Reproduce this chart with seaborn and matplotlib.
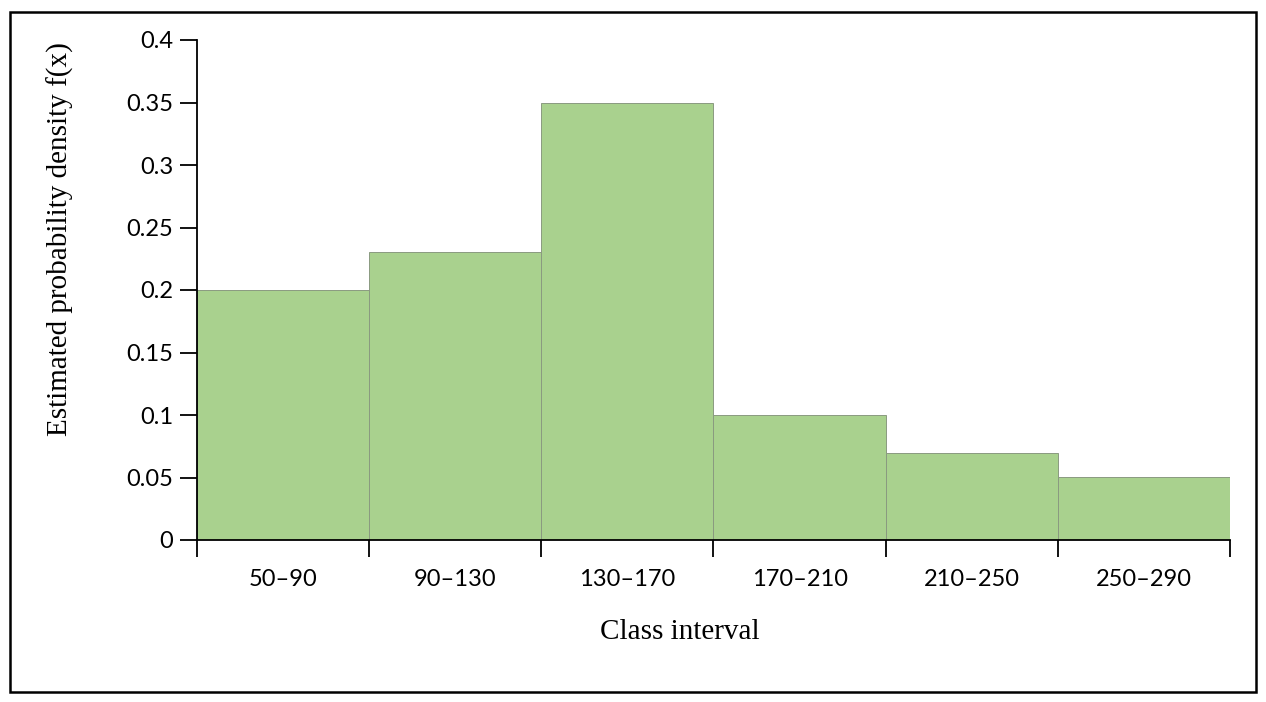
import numpy as np
import pandas as pd
import matplotlib
matplotlib.use("Agg")
import matplotlib.pyplot as plt
import seaborn as sns
from matplotlib.patches import Rectangle

# Class intervals and estimated densities
edges = [50, 90, 130, 170, 210, 250, 290]
labels = ["50–90", "90–130", "130–170", "170–210", "210–250", "250–290"]
density = [0.2, 0.23, 0.35, 0.1, 0.07, 0.05]

mids = [(a + b) / 2 for a, b in zip(edges[:-1], edges[1:])]
df = pd.DataFrame({"mid": mids, "f": density})

sns.set_style("white")
plt.rcParams["font.family"] = ["Lato", "DejaVu Sans"]
plt.rcParams["text.color"] = "black"
plt.rcParams["xtick.color"] = "black"
plt.rcParams["ytick.color"] = "black"
plt.rcParams["axes.labelcolor"] = "black"

fig = plt.figure(figsize=(12.66, 7.02), dpi=100)
ax = fig.add_axes([197 / 1266, 1 - 540 / 702, (1230 - 197) / 1266, 500 / 702])

sns.histplot(data=df, x="mid", weights="f", bins=edges, stat="count",
             color="#a9d18e", alpha=1, edgecolor="#8a9a80", linewidth=0.7, ax=ax)

ax.set_xlim(50, 290)
ax.set_ylim(0, 0.4)
ax.set_yticks([0, 0.05, 0.1, 0.15, 0.2, 0.25, 0.3, 0.35, 0.4])
ax.set_yticklabels(["0", "0.05", "0.1", "0.15", "0.2", "0.25", "0.3", "0.35", "0.4"])
ax.set_xticks(edges)
ax.set_xticklabels([""] * len(edges))
ax.set_xticks(mids, minor=True)
ax.set_xticklabels(labels, minor=True)
ax.tick_params(axis="x", which="major", direction="out", length=12, width=1.3, bottom=True)
ax.tick_params(axis="x", which="minor", length=0, pad=21, labelsize=17)
ax.tick_params(axis="y", direction="out", length=12, width=1.3, left=True, labelsize=17, pad=5)

sns.despine(ax=ax)
for s in ["left", "bottom"]:
    ax.spines[s].set_color("black")
    ax.spines[s].set_linewidth(1.3)

ax.set_xlabel("Class interval", family="Liberation Serif", fontsize=21, va="center")
ax.set_ylabel("Estimated probability density f(x)", family="Liberation Serif", fontsize=21, va="center")
ax.xaxis.set_label_coords((680 - 197) / 1033, (540 - 632) / 500)
ax.yaxis.set_label_coords((60 - 197) / 1033, (540 - 239) / 500)

fig.patches.append(Rectangle((10 / 1266, 1 - 692 / 702), 1246 / 1266, 680 / 702,
                             transform=fig.transFigure, fill=False,
                             edgecolor="black", linewidth=1.8))

fig.savefig("out.png", dpi=100)
